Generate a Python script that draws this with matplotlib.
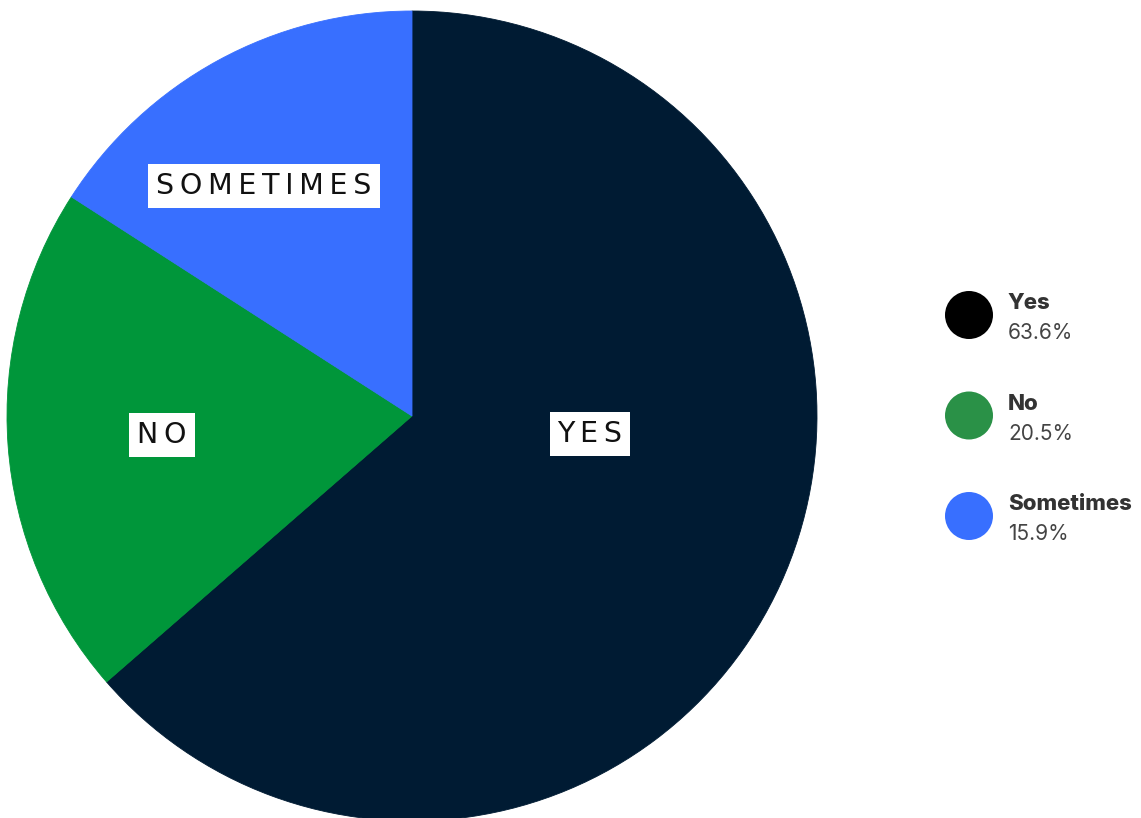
import matplotlib.pyplot as plt
from matplotlib.patches import Circle

# survey answers
answers = ['Yes', 'No', 'Sometimes']
shares = [63.6, 20.5, 15.9]
slice_colors = ['#001b33', '#00963a', '#386fff']
legend_colors = ['#000000', '#2a9147', '#386fff']

# where the caps labels sit inside the slices (pixels, origin bottom-left)
label_xy = [(590, 384), (162, 383), (264, 632)]

W, H = 1141, 818
fig = plt.figure(figsize=(W / 100, H / 100), dpi=100)
ax = fig.add_axes([0, 0, 1, 1])

wedges, _ = ax.pie(shares, colors=slice_colors, startangle=90, counterclock=False,
                   center=(412, 402), radius=405)
# edge in the same colour hides the seams between slices
for w in wedges:
    w.set_edgecolor(w.get_facecolor())
    w.set_linewidth(0.6)
ax.set_xlim(0, W)
ax.set_ylim(0, H)
ax.set_aspect('equal')
ax.axis('off')

font = ['Inter', 'DejaVu Sans']

# spaced out caps labels on white boxes
for name, (x, y) in zip(answers, label_xy):
    spaced = '\u200a\u200a'.join(name.upper())
    ax.text(x, y, spaced, ha='center', va='center', fontsize=20.5,
            family='DejaVu Sans', color='#111111',
            bbox=dict(boxstyle='square,pad=0.28', fc='white', ec='none'))

# legend on the right
for i, (name, val, col) in enumerate(zip(answers, shares, legend_colors)):
    cy = 503 - i * 100.5
    ax.add_patch(Circle((969, cy), 24, color=col, lw=0))
    ax.text(1008, cy + 12, name, ha='left', va='center', fontsize=16,
            fontweight='heavy', family=font, color='#333333')
    ax.text(1008, cy - 18, f'{val}%', ha='left', va='center', fontsize=15,
            family=font, color='#444444')

fig.savefig('out.png', dpi=100)
